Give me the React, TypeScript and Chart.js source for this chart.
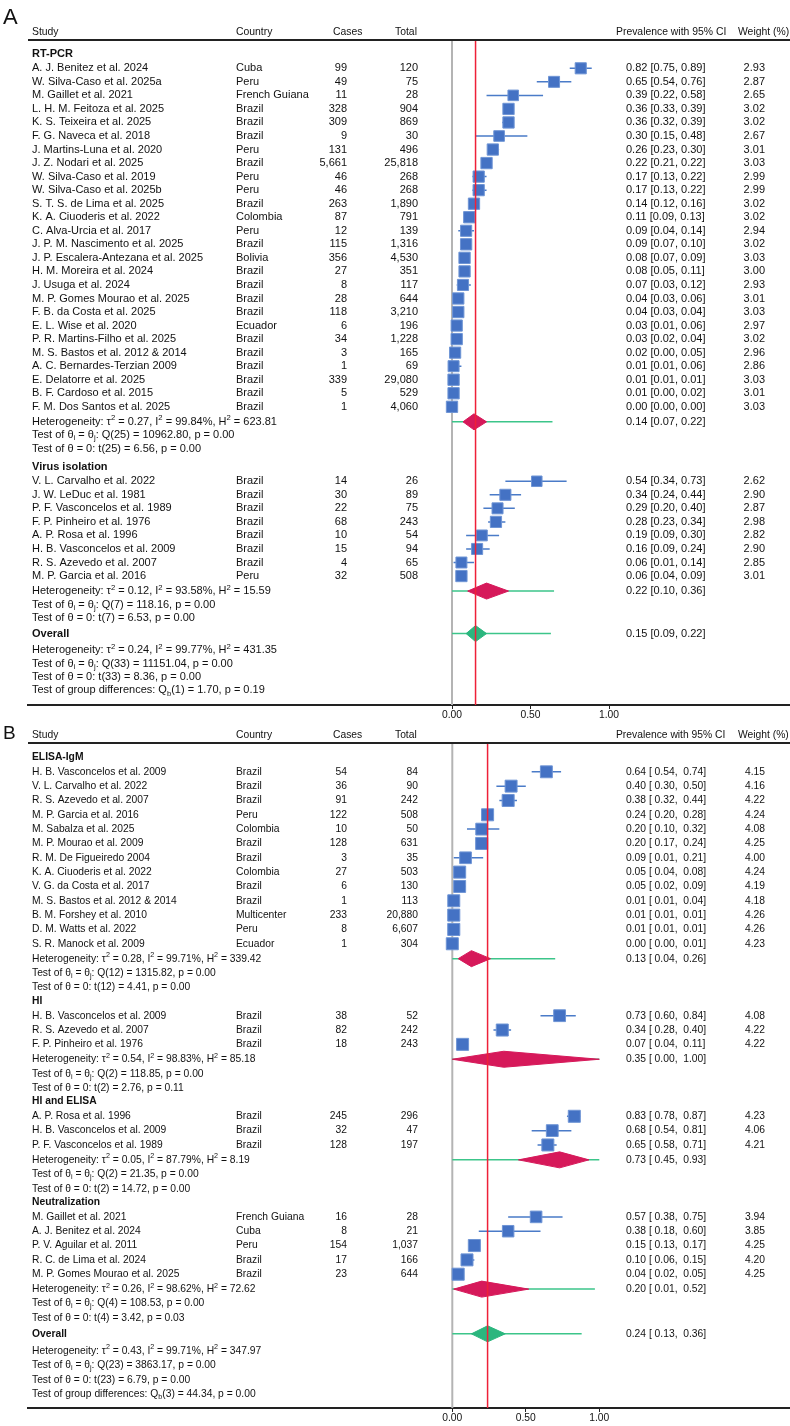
import React, { useEffect, useRef } from 'react';
import { Chart, registerables } from 'chart.js';

Chart.register(...registerables);

const FONT = '"Liberation Sans", Arial, Helvetica, sans-serif';

// ---------- DATA ----------
// row: [study, country, cases, total, prevalence, lower, upper, weight %]
type Row = [string, string, number, number, number, number, number, number];

const X_TICKS = [0, 0.5, 1];

// Panel A — RT-PCR
const rtPcrRows: Row[] = [
  ['A. J. Benitez et al. 2024', 'Cuba', 99, 120, 0.82, 0.75, 0.89, 2.93],
  ['W. Silva-Caso et al. 2025a', 'Peru', 49, 75, 0.65, 0.54, 0.76, 2.87],
  ['M. Gaillet et al. 2021', 'French Guiana', 11, 28, 0.39, 0.22, 0.58, 2.65],
  ['L. H. M. Feitoza et al. 2025', 'Brazil', 328, 904, 0.36, 0.33, 0.39, 3.02],
  ['K. S. Teixeira et al. 2025', 'Brazil', 309, 869, 0.36, 0.32, 0.39, 3.02],
  ['F. G. Naveca et al. 2018', 'Brazil', 9, 30, 0.30, 0.15, 0.48, 2.67],
  ['J. Martins-Luna et al. 2020', 'Peru', 131, 496, 0.26, 0.23, 0.30, 3.01],
  ['J. Z. Nodari et al. 2025', 'Brazil', 5661, 25818, 0.22, 0.21, 0.22, 3.03],
  ['W. Silva-Caso et al. 2019', 'Peru', 46, 268, 0.17, 0.13, 0.22, 2.99],
  ['W. Silva-Caso et al. 2025b', 'Peru', 46, 268, 0.17, 0.13, 0.22, 2.99],
  ['S. T. S. de Lima et al. 2025', 'Brazil', 263, 1890, 0.14, 0.12, 0.16, 3.02],
  ['K. A. Ciuoderis et al. 2022', 'Colombia', 87, 791, 0.11, 0.09, 0.13, 3.02],
  ['C. Alva-Urcia et al. 2017', 'Peru', 12, 139, 0.09, 0.04, 0.14, 2.94],
  ['J. P. M. Nascimento et al. 2025', 'Brazil', 115, 1316, 0.09, 0.07, 0.10, 3.02],
  ['J. P. Escalera-Antezana et al. 2025', 'Bolivia', 356, 4530, 0.08, 0.07, 0.09, 3.03],
  ['H. M. Moreira et al. 2024', 'Brazil', 27, 351, 0.08, 0.05, 0.11, 3.00],
  ['J. Usuga et al. 2024', 'Brazil', 8, 117, 0.07, 0.03, 0.12, 2.93],
  ['M. P. Gomes Mourao et al. 2025', 'Brazil', 28, 644, 0.04, 0.03, 0.06, 3.01],
  ['F. B. da Costa et al. 2025', 'Brazil', 118, 3210, 0.04, 0.03, 0.04, 3.03],
  ['E. L. Wise et al. 2020', 'Ecuador', 6, 196, 0.03, 0.01, 0.06, 2.97],
  ['P. R. Martins-Filho et al. 2025', 'Brazil', 34, 1228, 0.03, 0.02, 0.04, 3.02],
  ['M. S. Bastos et al. 2012 & 2014', 'Brazil', 3, 165, 0.02, 0.00, 0.05, 2.96],
  ['A. C. Bernardes-Terzian 2009', 'Brazil', 1, 69, 0.01, 0.01, 0.06, 2.86],
  ['E. Delatorre et al. 2025', 'Brazil', 339, 29080, 0.01, 0.01, 0.01, 3.03],
  ['B. F. Cardoso et al. 2015', 'Brazil', 5, 529, 0.01, 0.00, 0.02, 3.01],
  ['F. M. Dos Santos et al. 2025', 'Brazil', 1, 4060, 0.00, 0.00, 0.00, 3.03],
];
// [estimate, lower, upper], [prediction lower, prediction upper]
const rtPcrSummary = [0.14, 0.07, 0.22];
const rtPcrPredInt = [0.0, 0.64];
// [tau2, I2, H2, df, Q, pQ, t, pT]
const rtPcrHet = [0.27, 99.84, 623.81, 25, 10962.8, 0.0, 6.56, 0.0];

// Panel A — Virus isolation
const virusRows: Row[] = [
  ['V. L. Carvalho et al. 2022', 'Brazil', 14, 26, 0.54, 0.34, 0.73, 2.62],
  ['J. W. LeDuc et al. 1981', 'Brazil', 30, 89, 0.34, 0.24, 0.44, 2.90],
  ['P. F. Vasconcelos et al. 1989', 'Brazil', 22, 75, 0.29, 0.20, 0.40, 2.87],
  ['F. P. Pinheiro et al. 1976', 'Brazil', 68, 243, 0.28, 0.23, 0.34, 2.98],
  ['A. P. Rosa et al. 1996', 'Brazil', 10, 54, 0.19, 0.09, 0.30, 2.82],
  ['H. B. Vasconcelos et al. 2009', 'Brazil', 15, 94, 0.16, 0.09, 0.24, 2.90],
  ['R. S. Azevedo et al. 2007', 'Brazil', 4, 65, 0.06, 0.01, 0.14, 2.85],
  ['M. P. Garcia et al. 2016', 'Peru', 32, 508, 0.06, 0.04, 0.09, 3.01],
];
const virusSummary = [0.22, 0.10, 0.36];
const virusPredInt = [0.0, 0.65];
const virusHet = [0.12, 93.58, 15.59, 7, 118.16, 0.0, 6.53, 0.0];

const overallASummary = [0.15, 0.09, 0.22];
const overallAPredInt = [0.0, 0.63];
const overallAHet = [0.24, 99.77, 431.35, 33, 11151.04, 0.0, 8.36, 0.0];
const overallAGroupDiff = [1, 1.7, 0.19];

// Panel B — ELISA-IgM
const elisaRows: Row[] = [
  ['H. B. Vasconcelos et al. 2009', 'Brazil', 54, 84, 0.64, 0.54, 0.74, 4.15],
  ['V. L. Carvalho et al. 2022', 'Brazil', 36, 90, 0.40, 0.30, 0.50, 4.16],
  ['R. S. Azevedo et al. 2007', 'Brazil', 91, 242, 0.38, 0.32, 0.44, 4.22],
  ['M. P. Garcia et al. 2016', 'Peru', 122, 508, 0.24, 0.20, 0.28, 4.24],
  ['M. Sabalza et al. 2025', 'Colombia', 10, 50, 0.20, 0.10, 0.32, 4.08],
  ['M. P. Mourao et al. 2009', 'Brazil', 128, 631, 0.20, 0.17, 0.24, 4.25],
  ['R. M. De Figueiredo 2004', 'Brazil', 3, 35, 0.09, 0.01, 0.21, 4.00],
  ['K. A. Ciuoderis et al. 2022', 'Colombia', 27, 503, 0.05, 0.04, 0.08, 4.24],
  ['V. G. da Costa et al. 2017', 'Brazil', 6, 130, 0.05, 0.02, 0.09, 4.19],
  ['M. S. Bastos et al. 2012 & 2014', 'Brazil', 1, 113, 0.01, 0.01, 0.04, 4.18],
  ['B. M. Forshey et al. 2010', 'Multicenter', 233, 20880, 0.01, 0.01, 0.01, 4.26],
  ['D. M. Watts et al. 2022', 'Peru', 8, 6607, 0.01, 0.01, 0.01, 4.26],
  ['S. R. Manock et al. 2009', 'Ecuador', 1, 304, 0.00, 0.00, 0.01, 4.23],
];
const elisaSummary = [0.13, 0.04, 0.26];
const elisaPredInt = [0.0, 0.7];
const elisaHet = [0.28, 99.71, 339.42, 12, 1315.82, 0.0, 4.41, 0.0];

// Panel B — HI
const hiRows: Row[] = [
  ['H. B. Vasconcelos et al. 2009', 'Brazil', 38, 52, 0.73, 0.60, 0.84, 4.08],
  ['R. S. Azevedo et al. 2007', 'Brazil', 82, 242, 0.34, 0.28, 0.40, 4.22],
  ['F. P. Pinheiro et al. 1976', 'Brazil', 18, 243, 0.07, 0.04, 0.11, 4.22],
];
const hiSummary = [0.35, 0.0, 1.0];
const hiPredInt = [0.0, 1.0];
const hiHet = [0.54, 98.83, 85.18, 2, 118.85, 0.0, 2.76, 0.11];

// Panel B — HI and ELISA
const hiElisaRows: Row[] = [
  ['A. P. Rosa et al. 1996', 'Brazil', 245, 296, 0.83, 0.78, 0.87, 4.23],
  ['H. B. Vasconcelos et al. 2009', 'Brazil', 32, 47, 0.68, 0.54, 0.81, 4.06],
  ['P. F. Vasconcelos et al. 1989', 'Brazil', 128, 197, 0.65, 0.58, 0.71, 4.21],
];
const hiElisaSummary = [0.73, 0.45, 0.93];
const hiElisaPredInt = [0.0, 1.0];
const hiElisaHet = [0.05, 87.79, 8.19, 2, 21.35, 0.0, 14.72, 0.0];

// Panel B — Neutralization
const neutRows: Row[] = [
  ['M. Gaillet et al. 2021', 'French Guiana', 16, 28, 0.57, 0.38, 0.75, 3.94],
  ['A. J. Benitez et al. 2024', 'Cuba', 8, 21, 0.38, 0.18, 0.60, 3.85],
  ['P. V. Aguilar et al. 2011', 'Peru', 154, 1037, 0.15, 0.13, 0.17, 4.25],
  ['R. C. de Lima et al. 2024', 'Brazil', 17, 166, 0.10, 0.06, 0.15, 4.20],
  ['M. P. Gomes Mourao et al. 2025', 'Brazil', 23, 644, 0.04, 0.02, 0.05, 4.25],
];
const neutSummary = [0.2, 0.01, 0.52];
const neutPredInt = [0.0, 0.97];
const neutHet = [0.26, 98.62, 72.62, 4, 108.53, 0.0, 3.42, 0.03];

const overallBSummary = [0.24, 0.13, 0.36];
const overallBPredInt = [0.0, 0.88];
const overallBHet = [0.43, 99.71, 347.97, 23, 3863.17, 0.0, 6.79, 0.0];
const overallBGroupDiff = [3, 44.34, 0.0];

// ---------- STYLE ----------
const INK = '#111111';
const SQ_FILL = '#4472c4';
const SQ_EDGE = '#6f95d5';
const CI_BLUE = '#4a7bc8';
const CRIMSON = '#d6195a';
const GREEN = '#2bb67e';
const PI_GREEN = '#3cc58a';
const RED = '#ee2038';
const GREY = '#b4b4b4';

type Group = { name: string; rows: Row[]; summary: number[]; pi: number[]; het: number[] };
type PanelSpec = {
  label: string;
  groups: Group[];
  overall: { summary: number[]; pi: number[]; het: number[]; diff: number[] };
  canvasH: number;
  padTop: number;
  padBottom: number;
  axisH: number;
  zeroPx: number;
  unitPx: number;
  left: number;
  right: number;
  rowPx: number;
  gaps: { first: number; afterHeader: number; het: number; test: number; nextGroup: number; overall: number; overallHet: number };
  headerRow: number;
  labelBaseline: number;
  labelSize: number;
  paddedCI: boolean;
  squareK: number;
  bodySize: number;
  headSize: number;
};

const panelA: PanelSpec = {
  label: 'A',
  groups: [
    { name: 'RT-PCR', rows: rtPcrRows, summary: rtPcrSummary, pi: rtPcrPredInt, het: rtPcrHet },
    { name: 'Virus isolation', rows: virusRows, summary: virusSummary, pi: virusPredInt, het: virusHet },
  ],
  overall: { summary: overallASummary, pi: overallAPredInt, het: overallAHet, diff: overallAGroupDiff },
  canvasH: 722,
  padTop: 40,
  padBottom: 0,
  axisH: 17,
  zeroPx: 452,
  unitPx: 157,
  left: 28,
  right: 790,
  rowPx: 13.54,
  gaps: { first: 1.03, afterHeader: 1.06, het: 1.11, test: 0.99, nextGroup: 1.35, overall: 1.16, overallHet: 1.23 },
  headerRow: -0.59,
  labelBaseline: 24,
  labelSize: 22,
  paddedCI: false,
  squareK: 6.5,
  bodySize: 11,
  headSize: 10.4,
};

const panelB: PanelSpec = {
  label: 'B',
  groups: [
    { name: 'ELISA-IgM', rows: elisaRows, summary: elisaSummary, pi: elisaPredInt, het: elisaHet },
    { name: 'HI', rows: hiRows, summary: hiSummary, pi: hiPredInt, het: hiHet },
    { name: 'HI and ELISA', rows: hiElisaRows, summary: hiElisaSummary, pi: hiElisaPredInt, het: hiElisaHet },
    { name: 'Neutralization', rows: neutRows, summary: neutSummary, pi: neutPredInt, het: neutHet },
  ],
  overall: { summary: overallBSummary, pi: overallBPredInt, het: overallBHet, diff: overallBGroupDiff },
  canvasH: 704,
  padTop: 21,
  padBottom: 1,
  axisH: 17,
  zeroPx: 452.3,
  unitPx: 147,
  left: 28,
  right: 790,
  rowPx: 14.33,
  gaps: { first: 0.98, afterHeader: 1.03, het: 1.04, test: 1.01, nextGroup: 0.93, overall: 1.1, overallHet: 1.18 },
  headerRow: -0.56,
  labelBaseline: 17,
  labelSize: 19,
  paddedCI: true,
  squareK: 5.85,
  bodySize: 10.3,
  headSize: 10.3,
};

const COL = { study: 32, country: 236, casesR: 347, totalR: 418, prevL: 626, weightR: 765 };
const HEAD = { study: 32, country: 236, cases: 333, total: 395, prev: 616, weight: 738 };

// ---------- HELPERS ----------
const f2 = (n: number) => n.toFixed(2);
const fmtInt = (n: number) => n.toLocaleString('en-US');
const ciText = (e: number, l: number, h: number, padded: boolean) =>
  padded ? `${f2(e)} [ ${f2(l)},  ${f2(h)}]` : `${f2(e)} [${f2(l)}, ${f2(h)}]`;
const hetLines = (het: number[]) => {
  const [tau2, i2, h2, df, q, pq, t, pt] = het;
  return [
    `Heterogeneity: τ^{2} = ${f2(tau2)}, I^{2} = ${f2(i2)}%, H^{2} = ${f2(h2)}`,
    `Test of θ_{i} = θ_{j}: Q(${df}) = ${f2(q)}, p = ${f2(pq)}`,
    `Test of θ = 0: t(${df}) = ${f2(t)}, p = ${f2(pt)}`,
  ];
};

function drawRich(ctx: CanvasRenderingContext2D, str: string, x: number, y: number, size: number, bold = false) {
  const base = `${bold ? 'bold ' : ''}${size}px ${FONT}`;
  const small = `${bold ? 'bold ' : ''}${(size * 0.7).toFixed(1)}px ${FONT}`;
  const re = /([\^_])\{([^}]*)\}/g;
  let last = 0;
  let cx = x;
  let m: RegExpExecArray | null;
  ctx.textAlign = 'left';
  while ((m = re.exec(str))) {
    const pre = str.slice(last, m.index);
    ctx.font = base;
    ctx.fillText(pre, cx, y);
    cx += ctx.measureText(pre).width;
    ctx.font = small;
    const dy = m[1] === '^' ? -size * 0.33 : size * 0.28;
    ctx.fillText(m[2], cx, y + dy);
    cx += ctx.measureText(m[2]).width;
    last = re.lastIndex;
  }
  ctx.font = base;
  ctx.fillText(str.slice(last), cx, y);
}

type TextItem = { y: number; text: string; bold?: boolean };
type StudyItem = { y: number; row: Row };
type SumItem = { y: number; summary: number[]; pi: number[]; color: string };

function layoutPanel(spec: PanelSpec) {
  const g = spec.gaps;
  const texts: TextItem[] = [];
  const studies: StudyItem[] = [];
  const sums: SumItem[] = [];
  let y = g.first;
  spec.groups.forEach((grp, gi) => {
    if (gi > 0) y += g.nextGroup;
    texts.push({ y, text: grp.name, bold: true });
    y += g.afterHeader;
    grp.rows.forEach((row, i) => {
      if (i > 0) y += 1;
      studies.push({ y, row });
    });
    const lines = hetLines(grp.het);
    y += g.het;
    texts.push({ y, text: lines[0] });
    sums.push({ y, summary: grp.summary, pi: grp.pi, color: CRIMSON });
    y += g.test;
    texts.push({ y, text: lines[1] });
    y += g.test;
    texts.push({ y, text: lines[2] });
  });
  y += g.overall;
  texts.push({ y, text: 'Overall', bold: true });
  sums.push({ y, summary: spec.overall.summary, pi: spec.overall.pi, color: GREEN });
  const ol = hetLines(spec.overall.het);
  y += g.overallHet;
  texts.push({ y, text: ol[0] });
  y += g.test;
  texts.push({ y, text: ol[1] });
  y += g.test;
  texts.push({ y, text: ol[2] });
  y += g.test;
  const [ddf, qb, pb] = spec.overall.diff;
  texts.push({ y, text: `Test of group differences: Q_{b}(${ddf}) = ${f2(qb)}, p = ${f2(pb)}` });
  return { texts, studies, sums };
}

function buildConfig(spec: PanelSpec): any {
  const { texts, studies, sums } = layoutPanel(spec);
  const plotH = spec.canvasH - spec.padTop - spec.padBottom - spec.axisH;
  const yMax = plotH / spec.rowPx;
  const xMin = (spec.left - spec.zeroPx) / spec.unitPx;
  const xMax = (spec.right - spec.zeroPx) / spec.unitPx;
  const dh = 8 / spec.rowPx; // diamond half-height in row units
  const gap = { x: NaN, y: NaN };

  const squares = studies.map((s) => ({ x: s.row[4], y: s.y }));
  const radii = studies.map((s) => (spec.squareK * Math.sqrt(s.row[7])) / Math.SQRT2);
  const ciSegs: any[] = [];
  studies.forEach((s) => {
    ciSegs.push({ x: s.row[5], y: s.y }, { x: s.row[6], y: s.y }, gap);
  });
  const piSegs: any[] = [];
  sums.forEach((s) => {
    piSegs.push({ x: s.pi[0], y: s.y }, { x: s.pi[1], y: s.y }, gap);
  });
  const pooled = spec.overall.summary[0];

  const datasets: any[] = [
    {
      label: 'pooled',
      data: [{ x: pooled, y: 0 }, { x: pooled, y: yMax }],
      borderColor: RED,
      borderWidth: 1.5,
      pointRadius: 0,
      fill: false,
    },
    {
      label: 'studies',
      data: squares,
      showLine: false,
      pointStyle: 'rect',
      pointRadius: radii,
      pointBackgroundColor: SQ_FILL,
      pointBorderColor: SQ_EDGE,
      pointBorderWidth: 1,
    },
    ...sums.map((s, i) => ({
      label: 'diamond' + i,
      data: [
        { x: s.summary[1], y: s.y },
        { x: s.summary[0], y: s.y - dh },
        { x: s.summary[2], y: s.y },
        { x: s.summary[0], y: s.y + dh },
        { x: s.summary[1], y: s.y },
      ],
      borderColor: s.color,
      backgroundColor: s.color,
      borderWidth: 1,
      fill: 'shape',
      pointRadius: 0,
      tension: 0,
    })),
    {
      label: 'ci',
      data: ciSegs,
      borderColor: CI_BLUE,
      borderWidth: 1.5,
      pointRadius: 0,
      spanGaps: false,
      fill: false,
    },
    {
      label: 'pi',
      data: piSegs,
      borderColor: PI_GREEN,
      borderWidth: 1.5,
      pointRadius: 0,
      spanGaps: false,
      fill: false,
    },
    {
      label: 'zero',
      data: [{ x: 0, y: 0 }, { x: 0, y: yMax }],
      borderColor: GREY,
      borderWidth: 2,
      pointRadius: 0,
      fill: false,
    },
  ];

  const textPlugin = {
    id: 'forestText',
    afterDraw(chart: any) {
      const ctx: CanvasRenderingContext2D = chart.ctx;
      const ys = chart.scales.y;
      const area = chart.chartArea;
      ctx.save();
      // header rule
      ctx.strokeStyle = '#222';
      ctx.lineWidth = 2;
      ctx.beginPath();
      ctx.moveTo(area.left, area.top);
      ctx.lineTo(area.right, area.top);
      ctx.stroke();

      ctx.fillStyle = INK;
      ctx.textBaseline = 'alphabetic';
      ctx.textAlign = 'left';
      ctx.font = `${spec.labelSize}px ${FONT}`;
      ctx.fillText(spec.label, 3, spec.labelBaseline);

      ctx.textBaseline = 'middle';
      const put = (s: string, x: number, y: number, align: CanvasTextAlign, size: number, bold = false) => {
        ctx.font = `${bold ? 'bold ' : ''}${size}px ${FONT}`;
        ctx.textAlign = align;
        ctx.fillText(s, x, y);
      };
      const hs = spec.headSize;
      const bs = spec.bodySize;
      const hy = ys.getPixelForValue(spec.headerRow);
      put('Study', HEAD.study, hy, 'left', hs);
      put('Country', HEAD.country, hy, 'left', hs);
      put('Cases', HEAD.cases, hy, 'left', hs);
      put('Total', HEAD.total, hy, 'left', hs);
      put('Prevalence with 95% CI', HEAD.prev, hy, 'left', hs);
      put('Weight (%)', HEAD.weight, hy, 'left', hs);

      texts.forEach((t) => drawRich(ctx, t.text, COL.study, ys.getPixelForValue(t.y), bs, !!t.bold));

      studies.forEach((s) => {
        const py = ys.getPixelForValue(s.y);
        const r = s.row;
        put(r[0], COL.study, py, 'left', bs);
        put(r[1], COL.country, py, 'left', bs);
        put(fmtInt(r[2]), COL.casesR, py, 'right', bs);
        put(fmtInt(r[3]), COL.totalR, py, 'right', bs);
        put(ciText(r[4], r[5], r[6], spec.paddedCI), COL.prevL, py, 'left', bs);
        put(f2(r[7]), COL.weightR, py, 'right', bs);
      });
      sums.forEach((s) => {
        const py = ys.getPixelForValue(s.y);
        put(ciText(s.summary[0], s.summary[1], s.summary[2], spec.paddedCI), COL.prevL, py, 'left', bs);
      });
      ctx.restore();
    },
  };

  return {
    type: 'line',
    data: { datasets },
    options: {
      animation: false,
      responsive: false,
      maintainAspectRatio: false,
      events: [],
      layout: {
        autoPadding: false,
        padding: { top: spec.padTop, bottom: spec.padBottom, left: spec.left, right: 790 - spec.right },
      },
      plugins: { legend: { display: false }, tooltip: { enabled: false }, title: { display: false } },
      scales: {
        x: {
          type: 'linear',
          min: xMin,
          max: xMax,
          afterBuildTicks: (axis: any) => {
            axis.ticks = X_TICKS.map((v) => ({ value: v }));
          },
          afterFit: (axis: any) => {
            axis.height = spec.axisH;
            axis.paddingLeft = 0;
            axis.paddingRight = 0;
          },
          ticks: {
            callback: (v: any) => Number(v).toFixed(2),
            font: { size: 10.3, family: FONT },
            color: INK,
            padding: 0,
            autoSkip: false,
            maxRotation: 0,
          },
          grid: { display: true, drawOnChartArea: false, drawTicks: true, tickLength: 4, color: '#222', lineWidth: 1 },
          border: { display: true, color: '#222', width: 2 },
        },
        y: { type: 'linear', display: false, reverse: true, min: 0, max: yMax },
      },
    },
    plugins: [textPlugin],
  };
}

function ForestPanel({ spec }: { spec: PanelSpec }) {
  const ref = useRef<HTMLCanvasElement | null>(null);
  useEffect(() => {
    if (!ref.current) return;
    const chart = new Chart(ref.current, buildConfig(spec));
    return () => chart.destroy();
  }, [spec]);
  return (
    <canvas
      ref={ref}
      width={790}
      height={spec.canvasH}
      style={{ display: 'block', width: 790, height: spec.canvasH }}
    />
  );
}

export default function App() {
  useEffect(() => {
    document.body.style.margin = '0';
    document.body.style.background = '#ffffff';
  }, []);
  return (
    <div style={{ position: 'absolute', left: 0, top: 0, width: 790, height: 1426, background: '#ffffff' }}>
      <ForestPanel spec={panelA} />
      <ForestPanel spec={panelB} />
    </div>
  );
}
